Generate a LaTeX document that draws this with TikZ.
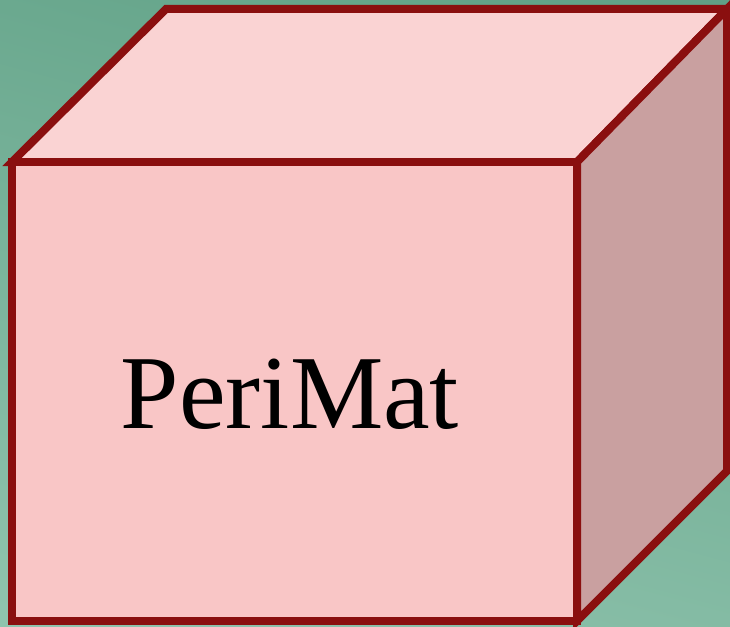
\documentclass[tikz,border=0pt]{standalone}
\usepackage{fontspec}
\setmainfont{Liberation Serif}
\definecolor{edge}{HTML}{8A0F0F}
\definecolor{frontc}{HTML}{F9C6C6}
\definecolor{topc}{HTML}{FAD3D3}
\definecolor{sidec}{HTML}{C9A0A0}
\definecolor{bgtop}{HTML}{60A186}
\definecolor{bgbot}{HTML}{8FC3AD}
\begin{document}
\begin{tikzpicture}[x=1pt,y=-1pt,
  face/.style={draw=edge,line width=8pt,line join=miter}]
\useasboundingbox (0,0) rectangle (730,626);
\shade[top color=bgtop,bottom color=bgbot,shading angle=-15] (-60,-60) rectangle (790,686);
\coordinate (ftl) at (12,162);
\coordinate (ftr) at (577,162);
\coordinate (fbr) at (577,621);
\coordinate (fbl) at (12,621);
\coordinate (btl) at (166,9);
\coordinate (btr) at (727,9);
\coordinate (bbr) at (727,471);
\draw[face,fill=topc] (ftl) -- (btl) -- (btr) -- (ftr) -- cycle;
\draw[face,fill=sidec] (ftr) -- (btr) -- (bbr) -- (fbr) -- cycle;
\draw[face,fill=frontc] (ftl) rectangle (fbr);
\node[font=\fontsize{105}{110}\selectfont] (label) at (290,394) {PeriMat};
\end{tikzpicture}
\end{document}
